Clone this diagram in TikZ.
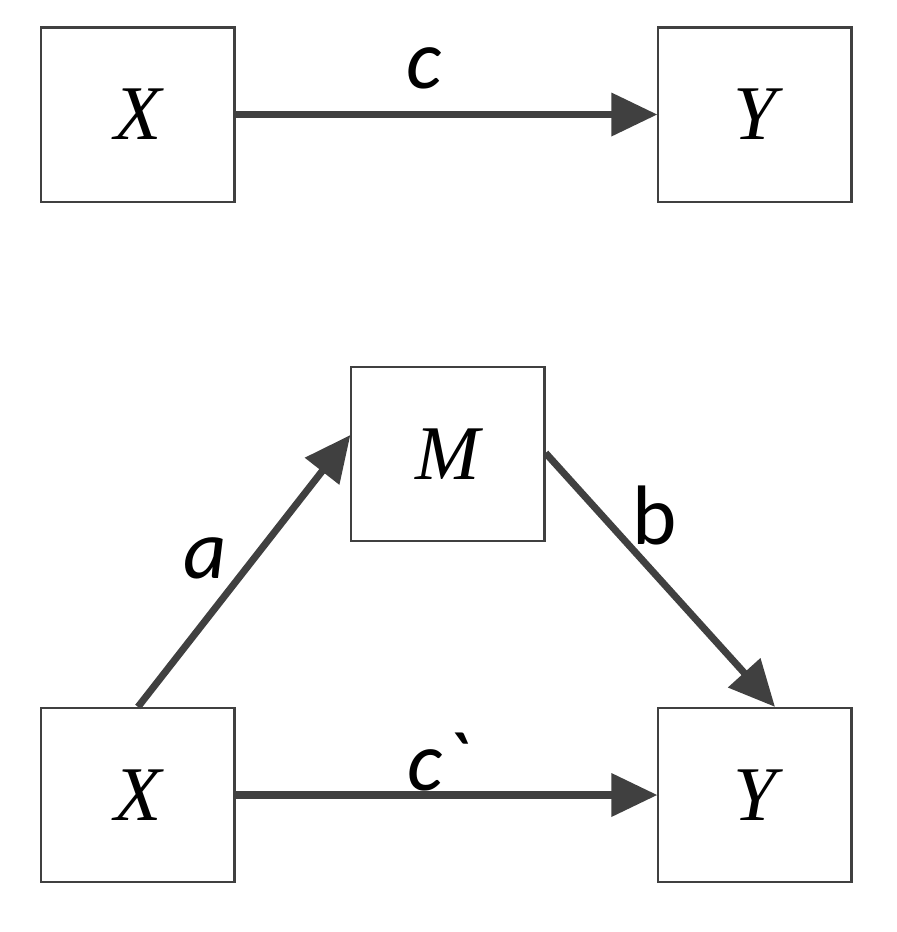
\documentclass[tikz,border=0pt]{standalone}
\usepackage{fontspec}
\setmainfont{Liberation Serif}
\newfontfamily\labelfont{Carlito}
\usetikzlibrary{arrows.meta}
\definecolor{pathgray}{RGB}{64,64,64}
\begin{document}
\begin{tikzpicture}[x=0.01cm,y=-0.01cm, >={Triangle[length=0.46cm,width=0.42cm]}]
    \tikzset{var box/.style={draw=pathgray, line width=0.6pt, minimum width=1.93cm, minimum height=1.74cm, font=\fontsize{22}{26}\selectfont\itshape},
             path arrow/.style={->, draw=pathgray, line width=2pt},
             path label/.style={font=\labelfont\fontsize{24}{28}\selectfont}}
    \useasboundingbox (0,0) rectangle (897,932);

    % total effect
    \node[var box] (xtop) at (138,114.5) {X};
    \node[var box] (ytop) at (755,114.5) {Y};
    \draw[path arrow] (xtop.east) -- (ytop.west);
    \node[path label] (ctop) at (424,68) {\itshape c};

    % mediation
    \node[var box] (m) at (448,454) {M};
    \node[var box] (xbot) at (138,795) {X};
    \node[var box] (ybot) at (755,795) {Y};
    \draw[path arrow] (xbot.north) -- ([yshift=0.19cm]m.west);
    \draw[path arrow] ([yshift=0.01cm]m.east) -- ([xshift=0.2cm]ybot.north);
    \draw[path arrow] (xbot.east) -- (ybot.west);
    \node[path label] (pa) at (205,558) {\itshape a};
    \node[path label] (pb) at (655,515) {b};
    \node[path label] (pc) at (437,762) {\itshape c`};
\end{tikzpicture}
\end{document}
